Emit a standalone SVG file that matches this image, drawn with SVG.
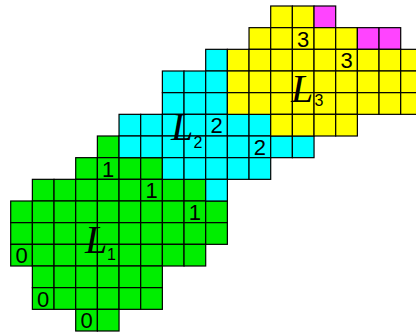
<svg xmlns="http://www.w3.org/2000/svg" xmlns:xlink="http://www.w3.org/1999/xlink" width="416" height="333" viewBox="0 0 416 333">
<style>
.g{fill:#00ee00}.c{fill:#00ffff}.y{fill:#ffff00}.m{fill:#ff44ff}
.n{font-family:"Liberation Sans",Arial,sans-serif;font-size:22px;fill:#000;text-anchor:middle}
.L{font-family:"Liberation Serif","Times New Roman",serif;font-style:italic;font-size:40px;fill:#000}
.s{font-family:"Liberation Sans",Arial,sans-serif;font-size:16px;fill:#000}
</style>
<defs>
<rect id="k" width="21.67" height="21.67" stroke="#000" stroke-width="1.2"/>
</defs>
<rect width="416" height="333" fill="#fff"/>
<g id="region-L1">
<use xlink:href="#k" class="g" x="97.37" y="136"/>
<use xlink:href="#k" class="g" x="75.7" y="157.67"/><use xlink:href="#k" class="g" x="97.37" y="157.67"/><use xlink:href="#k" class="g" x="119.03" y="157.67"/><use xlink:href="#k" class="g" x="140.7" y="157.67"/>
<use xlink:href="#k" class="g" x="32.37" y="179.33"/><use xlink:href="#k" class="g" x="54.03" y="179.33"/><use xlink:href="#k" class="g" x="75.7" y="179.33"/><use xlink:href="#k" class="g" x="97.37" y="179.33"/><use xlink:href="#k" class="g" x="119.03" y="179.33"/><use xlink:href="#k" class="g" x="140.7" y="179.33"/><use xlink:href="#k" class="g" x="162.37" y="179.33"/><use xlink:href="#k" class="g" x="184.03" y="179.33"/>
<use xlink:href="#k" class="g" x="10.7" y="201"/><use xlink:href="#k" class="g" x="32.37" y="201"/><use xlink:href="#k" class="g" x="54.03" y="201"/><use xlink:href="#k" class="g" x="75.7" y="201"/><use xlink:href="#k" class="g" x="97.37" y="201"/><use xlink:href="#k" class="g" x="119.03" y="201"/><use xlink:href="#k" class="g" x="140.7" y="201"/><use xlink:href="#k" class="g" x="162.37" y="201"/><use xlink:href="#k" class="g" x="184.03" y="201"/><use xlink:href="#k" class="g" x="205.7" y="201"/>
<use xlink:href="#k" class="g" x="10.7" y="222.67"/><use xlink:href="#k" class="g" x="32.37" y="222.67"/><use xlink:href="#k" class="g" x="54.03" y="222.67"/><use xlink:href="#k" class="g" x="75.7" y="222.67"/><use xlink:href="#k" class="g" x="97.37" y="222.67"/><use xlink:href="#k" class="g" x="119.03" y="222.67"/><use xlink:href="#k" class="g" x="140.7" y="222.67"/><use xlink:href="#k" class="g" x="162.37" y="222.67"/><use xlink:href="#k" class="g" x="184.03" y="222.67"/><use xlink:href="#k" class="g" x="205.7" y="222.67"/>
<use xlink:href="#k" class="g" x="10.7" y="244.33"/><use xlink:href="#k" class="g" x="32.37" y="244.33"/><use xlink:href="#k" class="g" x="54.03" y="244.33"/><use xlink:href="#k" class="g" x="75.7" y="244.33"/><use xlink:href="#k" class="g" x="97.37" y="244.33"/><use xlink:href="#k" class="g" x="119.03" y="244.33"/><use xlink:href="#k" class="g" x="140.7" y="244.33"/><use xlink:href="#k" class="g" x="162.37" y="244.33"/><use xlink:href="#k" class="g" x="184.03" y="244.33"/>
<use xlink:href="#k" class="g" x="32.37" y="266"/><use xlink:href="#k" class="g" x="54.03" y="266"/><use xlink:href="#k" class="g" x="75.7" y="266"/><use xlink:href="#k" class="g" x="97.37" y="266"/><use xlink:href="#k" class="g" x="119.03" y="266"/><use xlink:href="#k" class="g" x="140.7" y="266"/>
<use xlink:href="#k" class="g" x="32.37" y="287.67"/><use xlink:href="#k" class="g" x="54.03" y="287.67"/><use xlink:href="#k" class="g" x="75.7" y="287.67"/><use xlink:href="#k" class="g" x="97.37" y="287.67"/><use xlink:href="#k" class="g" x="119.03" y="287.67"/><use xlink:href="#k" class="g" x="140.7" y="287.67"/>
<use xlink:href="#k" class="g" x="75.7" y="309.33"/><use xlink:href="#k" class="g" x="97.37" y="309.33"/>
</g>
<g id="region-L2">
<use xlink:href="#k" class="c" x="205.7" y="49.33"/>
<use xlink:href="#k" class="c" x="162.37" y="71"/><use xlink:href="#k" class="c" x="184.03" y="71"/><use xlink:href="#k" class="c" x="205.7" y="71"/>
<use xlink:href="#k" class="c" x="162.37" y="92.67"/><use xlink:href="#k" class="c" x="184.03" y="92.67"/><use xlink:href="#k" class="c" x="205.7" y="92.67"/>
<use xlink:href="#k" class="c" x="119.03" y="114.33"/><use xlink:href="#k" class="c" x="140.7" y="114.33"/><use xlink:href="#k" class="c" x="162.37" y="114.33"/><use xlink:href="#k" class="c" x="184.03" y="114.33"/><use xlink:href="#k" class="c" x="205.7" y="114.33"/><use xlink:href="#k" class="c" x="227.37" y="114.33"/><use xlink:href="#k" class="c" x="249.03" y="114.33"/>
<use xlink:href="#k" class="c" x="119.03" y="136"/><use xlink:href="#k" class="c" x="140.7" y="136"/><use xlink:href="#k" class="c" x="162.37" y="136"/><use xlink:href="#k" class="c" x="184.03" y="136"/><use xlink:href="#k" class="c" x="205.7" y="136"/><use xlink:href="#k" class="c" x="227.37" y="136"/><use xlink:href="#k" class="c" x="249.03" y="136"/><use xlink:href="#k" class="c" x="270.7" y="136"/><use xlink:href="#k" class="c" x="292.37" y="136"/>
<use xlink:href="#k" class="c" x="162.37" y="157.67"/><use xlink:href="#k" class="c" x="184.03" y="157.67"/><use xlink:href="#k" class="c" x="205.7" y="157.67"/><use xlink:href="#k" class="c" x="227.37" y="157.67"/><use xlink:href="#k" class="c" x="249.03" y="157.67"/>
<use xlink:href="#k" class="c" x="205.7" y="179.33"/>
</g>
<g id="region-L3">
<use xlink:href="#k" class="y" x="270.7" y="6"/><use xlink:href="#k" class="y" x="292.37" y="6"/><use xlink:href="#k" class="m" x="314.03" y="6"/>
<use xlink:href="#k" class="y" x="249.03" y="27.67"/><use xlink:href="#k" class="y" x="270.7" y="27.67"/><use xlink:href="#k" class="y" x="292.37" y="27.67"/><use xlink:href="#k" class="y" x="314.03" y="27.67"/><use xlink:href="#k" class="y" x="335.7" y="27.67"/><use xlink:href="#k" class="m" x="357.37" y="27.67"/><use xlink:href="#k" class="m" x="379.03" y="27.67"/>
<use xlink:href="#k" class="y" x="227.37" y="49.33"/><use xlink:href="#k" class="y" x="249.03" y="49.33"/><use xlink:href="#k" class="y" x="270.7" y="49.33"/><use xlink:href="#k" class="y" x="292.37" y="49.33"/><use xlink:href="#k" class="y" x="314.03" y="49.33"/><use xlink:href="#k" class="y" x="335.7" y="49.33"/><use xlink:href="#k" class="y" x="357.37" y="49.33"/><use xlink:href="#k" class="y" x="379.03" y="49.33"/><use xlink:href="#k" class="y" x="400.7" y="49.33"/>
<use xlink:href="#k" class="y" x="227.37" y="71"/><use xlink:href="#k" class="y" x="249.03" y="71"/><use xlink:href="#k" class="y" x="270.7" y="71"/><use xlink:href="#k" class="y" x="292.37" y="71"/><use xlink:href="#k" class="y" x="314.03" y="71"/><use xlink:href="#k" class="y" x="335.7" y="71"/><use xlink:href="#k" class="y" x="357.37" y="71"/><use xlink:href="#k" class="y" x="379.03" y="71"/><use xlink:href="#k" class="y" x="400.7" y="71"/>
<use xlink:href="#k" class="y" x="227.37" y="92.67"/><use xlink:href="#k" class="y" x="249.03" y="92.67"/><use xlink:href="#k" class="y" x="270.7" y="92.67"/><use xlink:href="#k" class="y" x="292.37" y="92.67"/><use xlink:href="#k" class="y" x="314.03" y="92.67"/><use xlink:href="#k" class="y" x="335.7" y="92.67"/><use xlink:href="#k" class="y" x="357.37" y="92.67"/><use xlink:href="#k" class="y" x="379.03" y="92.67"/><use xlink:href="#k" class="y" x="400.7" y="92.67"/>
<use xlink:href="#k" class="y" x="270.7" y="114.33"/><use xlink:href="#k" class="y" x="292.37" y="114.33"/><use xlink:href="#k" class="y" x="314.03" y="114.33"/><use xlink:href="#k" class="y" x="335.7" y="114.33"/>
</g>
<g id="cell-numbers">
<text class="n" x="303.2" y="46.7">3</text>
<text class="n" x="346.5" y="68.3">3</text>
<text class="n" x="216.5" y="133.3">2</text>
<text class="n" x="259.9" y="155">2</text>
<text class="n" x="108.2" y="176.7">1</text>
<text class="n" x="151.5" y="198.3">1</text>
<text class="n" x="194.9" y="220">1</text>
<text class="n" x="21.5" y="263.3">0</text>
<text class="n" x="43.2" y="306.7">0</text>
<text class="n" x="86.5" y="328.3">0</text>
</g>
<g id="labels">
<text class="L" x="85" y="253">L</text><text class="s" x="107" y="260">1</text>
<text class="L" x="171" y="140">L</text><text class="s" x="193.5" y="148">2</text>
<text class="L" x="291" y="101.5">L</text><text class="s" x="314.5" y="106">3</text>
</g>
</svg>
